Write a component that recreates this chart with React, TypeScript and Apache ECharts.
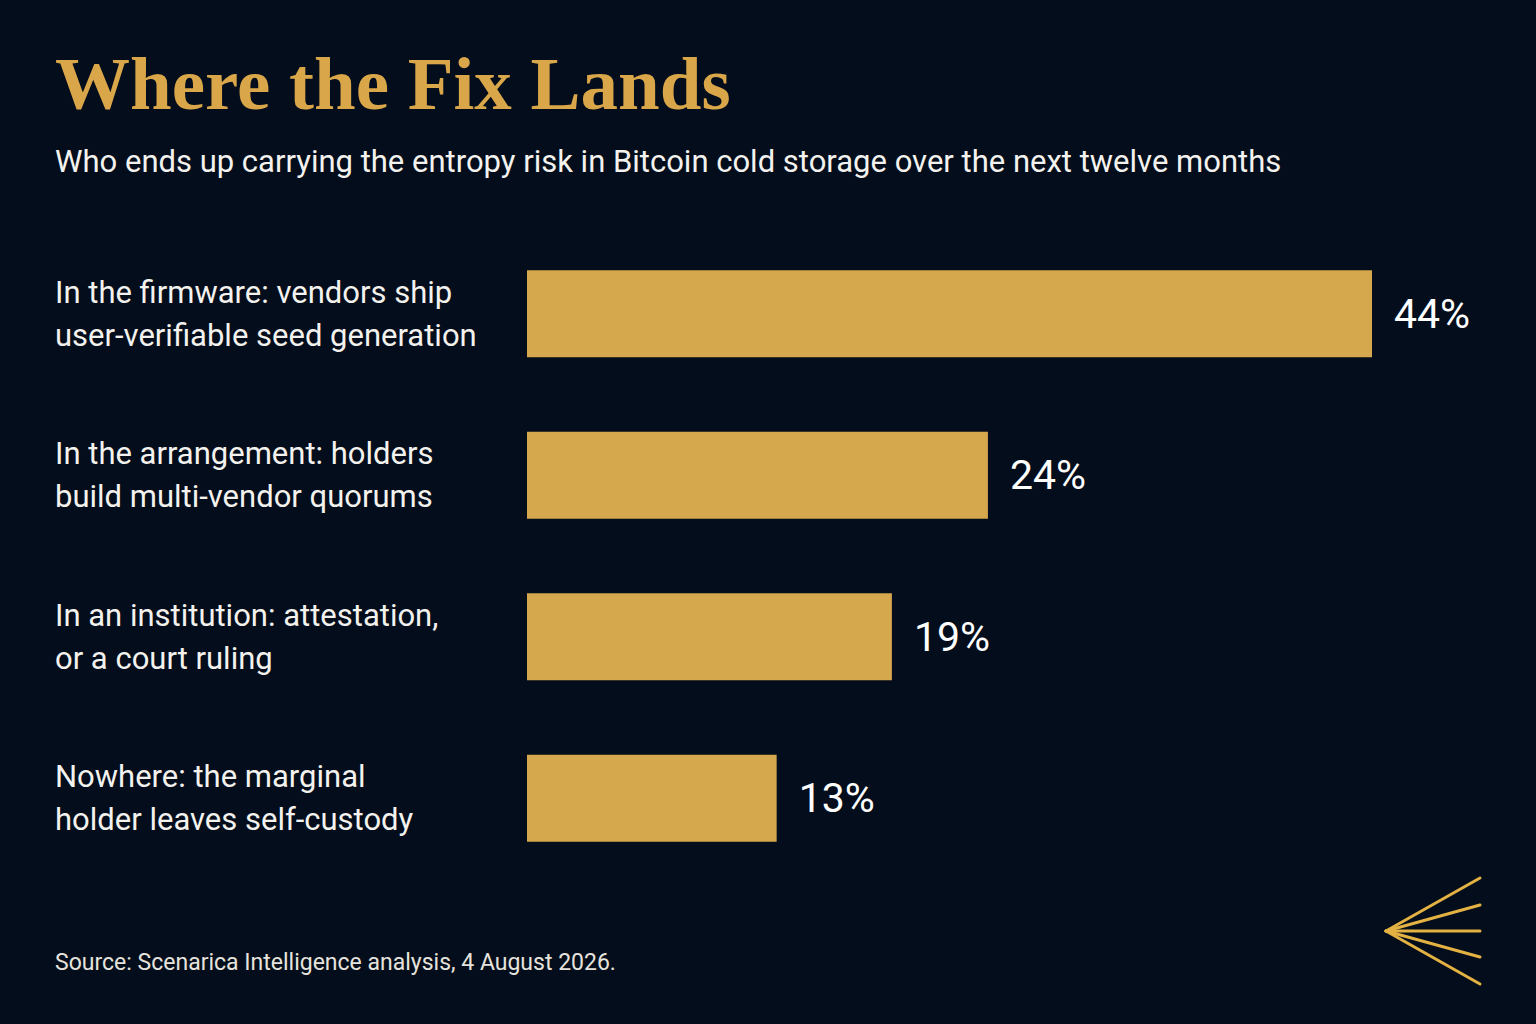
import React, { useEffect, useRef } from "react";
import * as echarts from "echarts";

const categories = [
  "In the firmware: vendors ship\nuser-verifiable seed generation",
  "In the arrangement: holders\nbuild multi-vendor quorums",
  "In an institution: attestation,\nor a court ruling",
  "Nowhere: the marginal\nholder leaves self-custody",
];
const values = [44, 24, 19, 13];

const titleText = "Where the Fix Lands";
const subtitleText =
  "Who ends up carrying the entropy risk in Bitcoin cold storage over the next twelve months";
const sourceText = "Source: Scenarica Intelligence analysis, 4 August 2026.";

const BG = "#030d1b";
const GOLD = "#d5a84d";
const SANS = "Roboto, 'Noto Sans', sans-serif";

export default function App() {
  const ref = useRef<HTMLDivElement>(null);
  useEffect(() => {
    if (!ref.current) return;
    const chart = echarts.init(ref.current, null, { renderer: "svg" });
    const fanEnds = [878, 905, 931, 957, 984];
    chart.setOption({
      animation: false,
      backgroundColor: BG,
      title: [
        {
          text: titleText,
          left: 55,
          top: 46,
          padding: 0,
          textStyle: {
            fontFamily: "'Liberation Serif', serif",
            fontSize: 75,
            fontWeight: "bold",
            color: "#d9a649",
          },
        },
        {
          text: subtitleText,
          left: 55,
          top: 146,
          padding: 0,
          textStyle: {
            fontFamily: SANS,
            fontSize: 31,
            fontWeight: "normal",
            color: "#f4f2ee",
          },
        },
        {
          text: sourceText,
          left: 55,
          top: 951,
          padding: 0,
          textStyle: {
            fontFamily: SANS,
            fontSize: 23,
            fontWeight: "normal",
            color: "#e6e3dd",
          },
        },
      ],
      grid: { left: 527, right: 164, top: 233, bottom: 145, containLabel: false },
      xAxis: {
        type: "value",
        min: 0,
        max: 44,
        show: false,
      },
      yAxis: {
        type: "category",
        data: categories,
        inverse: true,
        axisLine: { show: false },
        axisTick: { show: false },
        splitLine: { show: false },
        axisLabel: {
          align: "left",
          margin: 472,
          fontFamily: SANS,
          fontSize: 31,
          lineHeight: 43,
          color: "#f4f2ee",
        },
      },
      series: [
        {
          type: "bar",
          data: values,
          barWidth: 87,
          itemStyle: { color: GOLD },
          label: {
            show: true,
            position: "right",
            distance: 22,
            formatter: "{c}%",
            fontFamily: SANS,
            fontSize: 41,
            fontWeight: "normal",
            color: "#ffffff",
          },
        },
      ],
      graphic: fanEnds.map((y) => ({
        type: "line",
        shape: { x1: 1386, y1: 931, x2: 1480, y2: y },
        style: { stroke: "#e3b243", lineWidth: 3, lineCap: "round" },
      })),
    });
    return () => chart.dispose();
  }, []);
  return (
    <div
      ref={ref}
      style={{ position: "fixed", left: 0, top: 0, width: 1536, height: 1024 }}
    />
  );
}
